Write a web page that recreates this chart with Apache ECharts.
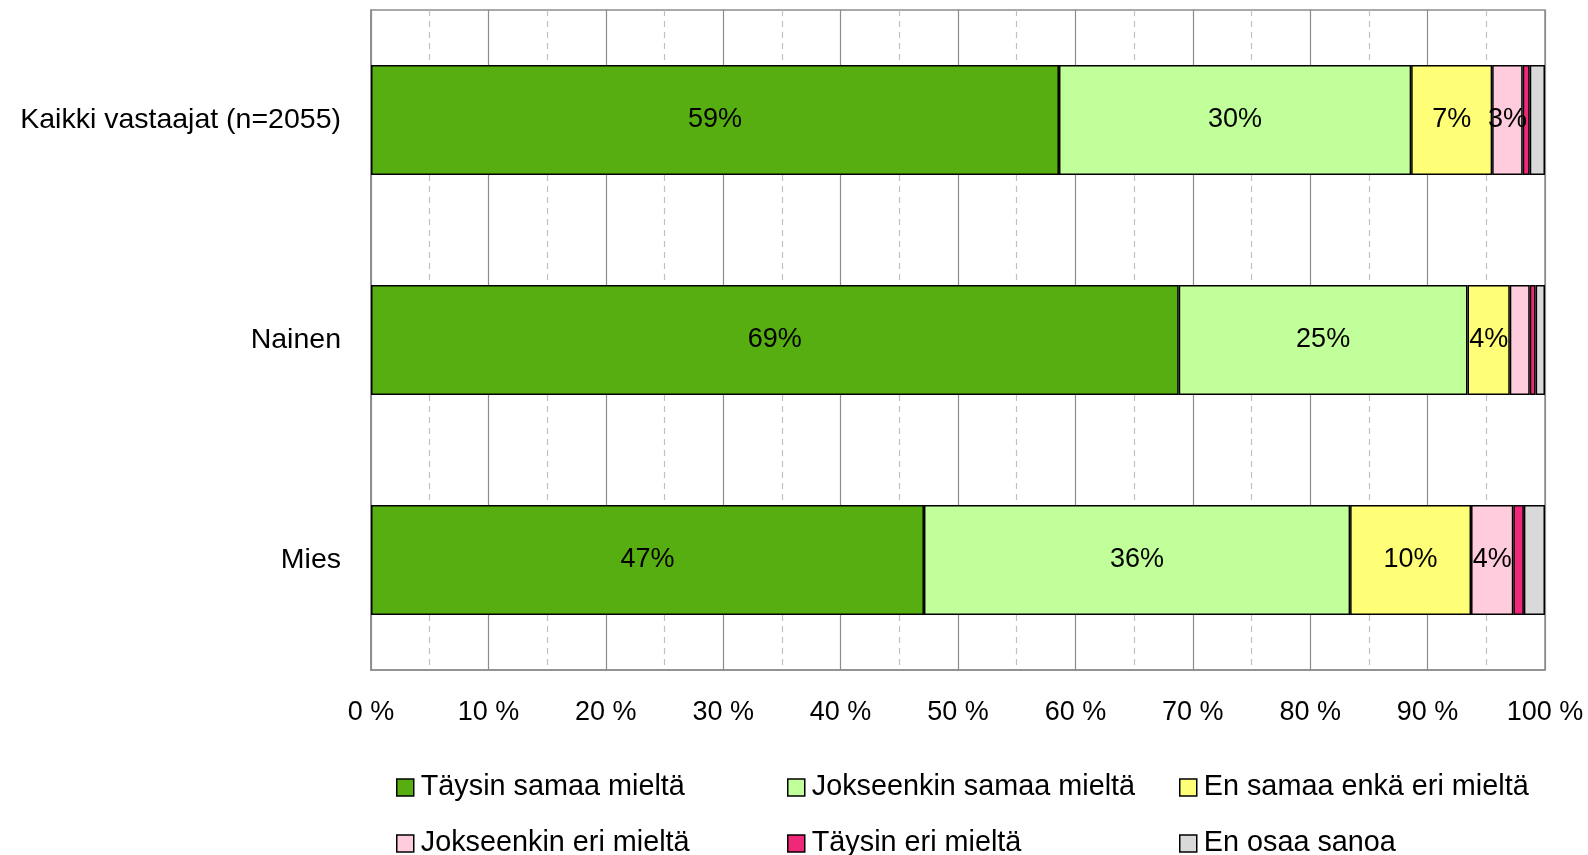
<!DOCTYPE html>
<html>
<head>
<meta charset="utf-8">
<script src="https://cdn.jsdelivr.net/npm/echarts@6/dist/echarts.min.js"></script>
<style>html,body{margin:0;padding:0;background:#fff}#c{width:1588px;height:855px}</style>
</head>
<body>
<div id="c"></div>
<script>
const categories = ['Kaikki vastaajat (n=2055)', 'Nainen', 'Mies'];
const seriesNames = ['Täysin samaa mieltä', 'Jokseenkin samaa mieltä', 'En samaa enkä eri mieltä', 'Jokseenkin eri mieltä', 'Täysin eri mieltä', 'En osaa sanoa'];
const taysinSamaa = [58.6, 68.8, 47.1];
const jokseenkinSamaa = [30.0, 24.6, 36.3];
const enSamaaEnkaEri = [6.9, 3.6, 10.3];
const jokseenkinEri = [2.6, 1.7, 3.6];
const taysinEri = [0.6, 0.5, 0.9];
const enOsaa = [1.3, 0.8, 1.8];
const xTickLabels = ['0 %','10 %','20 %','30 %','40 %','50 %','60 %','70 %','80 %','90 %','100 %'];

const values = [taysinSamaa, jokseenkinSamaa, enSamaaEnkaEri, jokseenkinEri, taysinEri, enOsaa];
const colors = ['#56AE10', '#C0FF99', '#FFFF77', '#FFCCDD', '#F0287A', '#D9D9D9'];
const FONT = 'Liberation Sans, Arial, sans-serif';

const series = seriesNames.map((n, i) => ({
  name: n,
  type: 'bar',
  stack: 'all',
  barWidth: '50%',
  data: values[i],
  itemStyle: { color: colors[i], borderColor: '#000', borderWidth: 1.5 },
  label: {
    show: true,
    position: 'inside',
    color: '#000',
    fontFamily: FONT,
    fontSize: 27,
    formatter: p => Math.round(p.value) >= 3 ? Math.round(p.value) + '%' : ''
  }
}));

const legendLefts = [396, 787, 1179];
const legendTops = [773, 829];
const legends = seriesNames.map((n, i) => ({
  data: [n],
  left: legendLefts[i % 3],
  top: legendTops[Math.floor(i / 3)],
  padding: 0,
  itemWidth: 17,
  itemHeight: 17,
  itemGap: 4,
  icon: 'rect',
  itemStyle: { borderColor: '#000', borderWidth: 1.5 },
  textStyle: { fontFamily: FONT, fontSize: 28.8, color: '#000', padding: [0, 0, 0, 2] },
  selectedMode: false
}));

const chart = echarts.init(document.getElementById('c'));
chart.setOption({
  animation: false,
  backgroundColor: '#fff',
  grid: { left: 371, right: 43, top: 10, bottom: 185, show: true, borderColor: '#8c8c8c', borderWidth: 1.5 },
  legend: legends,
  xAxis: {
    type: 'value',
    min: 0, max: 100, interval: 10,
    axisLine: { show: true, lineStyle: { color: '#8c8c8c', width: 1.5 } },
    axisTick: { show: false },
    axisLabel: { color: '#000', fontFamily: FONT, fontSize: 27, margin: 29, formatter: v => xTickLabels[Math.round(v / 10)] },
    splitLine: { show: true, lineStyle: { color: '#8c8c8c', width: 1.2 } },
    minorTick: { show: false, splitNumber: 2 },
    minorSplitLine: { show: true, lineStyle: { color: '#c0c0c0', type: [6, 5], width: 1.2 } }
  },
  yAxis: {
    type: 'category',
    data: categories,
    inverse: true,
    axisLine: { show: true, lineStyle: { color: '#8c8c8c', width: 1.5 } },
    axisTick: { show: false },
    axisLabel: { color: '#000', fontFamily: FONT, fontSize: 28.5, margin: 30 },
    splitLine: { show: false }
  },
  series: series
});
</script>
</body>
</html>
